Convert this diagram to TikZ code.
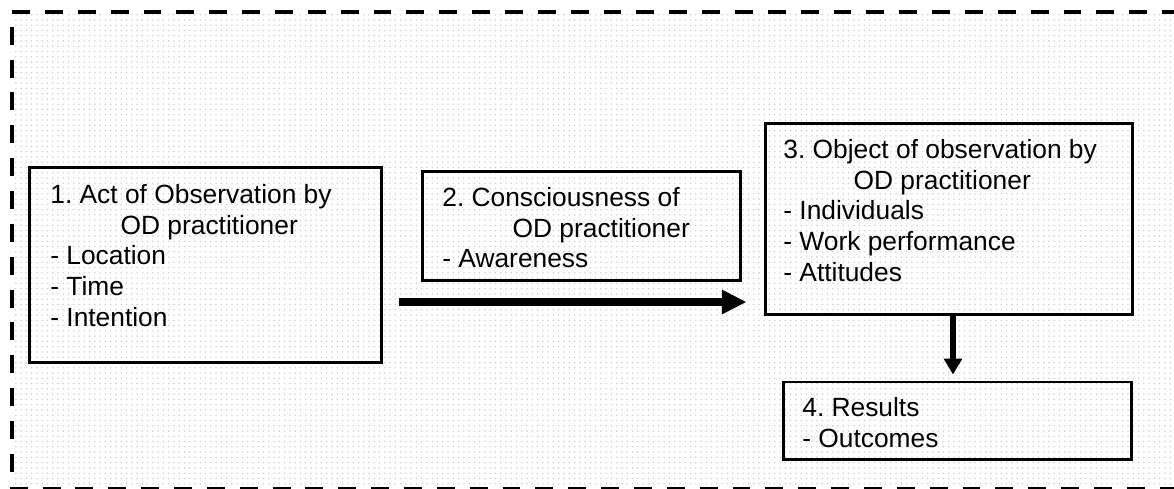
\documentclass[tikz,border=0pt]{standalone}
\usepackage{fontspec}
\setmainfont{Liberation Sans}
\usetikzlibrary{arrows.meta,patterns}
\frenchspacing

\begin{document}
\begin{tikzpicture}[x=0.02cm,y=-0.02cm,
    box/.style={draw, line width=1.7pt, inner sep=0pt},
    txt/.style={anchor=north west, inner sep=0pt, align=left, font=\fontsize{15}{17.5}\selectfont},
    flow/.style={line width=4.5pt, -{Triangle[length=14pt,width=13pt]}},
    drop/.style={line width=3.4pt, -{Triangle[length=9pt,width=10pt]}}]
    \useasboundingbox (0,0) rectangle (1174,489);
    % dotted panel with dashed frame
    \fill[pattern=dots, pattern color=black!18] (14,14) rectangle (1180,486);
    \draw[line width=2.3pt, dash pattern=on 10.2pt off 8.5pt] (1180,12) -- (12,12) -- (12,489) -- (1180,489);

    % boxes
    \node[box, minimum width=7.06cm, minimum height=3.92cm] (act) at (205.5,265) {};
    \node[box, minimum width=6.38cm, minimum height=2.2cm] (cons) at (581.5,226) {};
    \node[box, minimum width=7.36cm, minimum height=3.84cm] (obj) at (949,219) {};
    \node[box, minimum width=6.98cm, minimum height=1.56cm] (res) at (957.5,421) {};

    % texts
    \node[txt] (actText) at (50,184) {1. Act of Observation by\\\hspace*{40pt}OD practitioner\\- Location\\- Time\\- Intention};
    \node[txt] (consText) at (442,187) {2. Consciousness of\\\hspace*{40pt}OD practitioner\\- Awareness};
    \node[txt] (objText) at (783,139) {3. Object of observation by\\\hspace*{40pt}OD practitioner\\- Individuals\\- Work performance\\- Attitudes};
    \node[txt] (resText) at (802,397) {4. Results\\- Outcomes};

    % arrows
    \coordinate (row) at (0,302);
    \coordinate (col) at (953,0);
    \draw[flow, shorten <=0.32cm, shorten >=0.34cm] (act.east |- row) -- (obj.west |- row);
    \draw[drop, shorten >=0.12cm] (obj.south -| col) -- (res.north -| col);
\end{tikzpicture}
\end{document}
